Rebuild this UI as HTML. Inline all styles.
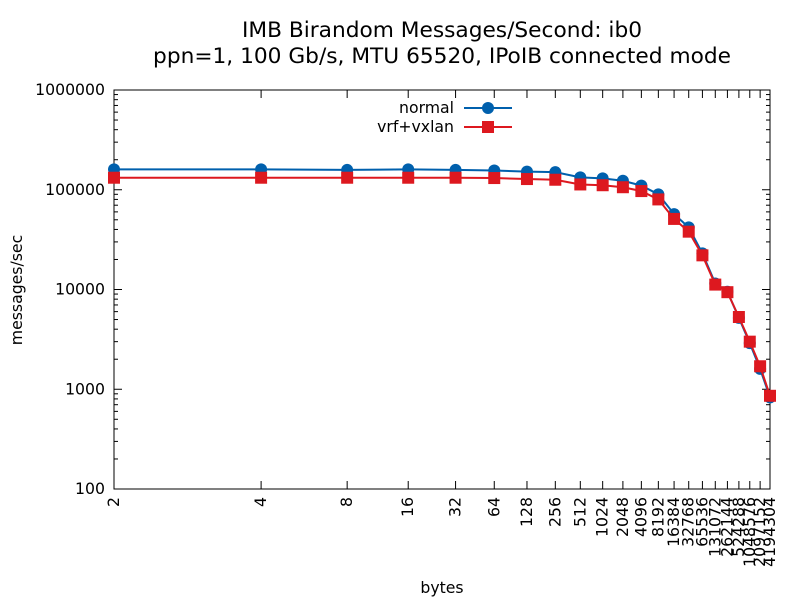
<!DOCTYPE html>
<html><head><meta charset="utf-8"><style>
body{margin:0;background:#fff}
svg text{font-family:"DejaVu Sans",sans-serif;fill:#000}
</style></head><body>
<svg id="c" width="800" height="600" xmlns="http://www.w3.org/2000/svg">
<text x="442" y="37" font-size="21.7" text-anchor="middle">IMB Birandom Messages/Second: ib0</text>
<text x="442" y="63" font-size="21.7" text-anchor="middle">ppn=1, 100 Gb/s, MTU 65520, IPoIB connected mode</text>
<text x="22" y="290" font-size="15.7" text-anchor="middle" transform="rotate(-90 22 290)">messages/sec</text>
<text x="442" y="593" font-size="15.7" text-anchor="middle">bytes</text>
<g id="ax"></g><g id="marks"></g>
<g>
<text x="454" y="113" font-size="15.7" text-anchor="end">normal</text>
<line x1="464" y1="108" x2="512" y2="108" stroke="#0060ad" stroke-width="2"/>
<circle cx="488" cy="108" r="6" fill="#0060ad"/>
<text x="454" y="132" font-size="15.7" text-anchor="end">vrf+vxlan</text>
<line x1="464" y1="127" x2="512" y2="127" stroke="#dd181f" stroke-width="2"/>
<rect x="482" y="121" width="12" height="12" fill="#dd181f"/>
</g>
</svg>
<script>
const bytes=[2,4,8,16,32,64,128,256,512,1024,2048,4096,8192,16384,32768,65536,131072,262144,524288,1048576,2097152,4194304];
const normal=[160000,160000,158000,160000,158000,156000,152000,150000,133000,130000,123000,110000,90000,57000,42000,23000,11500,9500,5200,2900,1600,830];
const vrf=[132000,132000,132000,132000,132000,131000,128000,126000,113000,111000,106000,97000,80000,51000,38000,22000,11200,9400,5300,3000,1700,860];
const yTicks=[100,1000,10000,100000,1000000];
const L=114,R=770,T=90,B=489;
function xs(b){return L+(R-L)*Math.log(Math.log2(b))/Math.log(22);}
function ys(v){return B-(B-T)*(Math.log10(v)-2)/4;}
const NS="http://www.w3.org/2000/svg";
function mk(t,a,p){const e=document.createElementNS(NS,t);for(const k in a)e.setAttribute(k,a[k]);p.appendChild(e);return e;}
const ax=document.getElementById('ax'),mg=document.getElementById('marks');
const fr=mk('rect',{x:L,y:T,width:R-L,height:B-T,fill:'none',stroke:'#000','stroke-width':1},ax);


yTicks.forEach(v=>{const y=ys(v);
mk('line',{x1:L,y1:y,x2:L+8,y2:y,stroke:'#000'},ax);mk('line',{x1:R,y1:y,x2:R-8,y2:y,stroke:'#000'},ax);
const t=mk('text',{x:L-9,y:y+5,'font-size':15.7,'text-anchor':'end'},ax);t.textContent=v;


if(v<1e6)for(let k=2;k<10;k++){const yy=ys(v*k);mk('line',{x1:L,y1:yy,x2:L+4,y2:yy,stroke:'#000'},ax);mk('line',{x1:R,y1:yy,x2:R-4,y2:yy,stroke:'#000'},ax);}
});
bytes.forEach(b=>{const x=xs(b);
mk('line',{x1:x,y1:B,x2:x,y2:B-8,stroke:'#000'},ax);mk('line',{x1:x,y1:T,x2:x,y2:T+8,stroke:'#000'},ax);
const t=mk('text',{x:x+5,y:B+8,'font-size':15.7,'text-anchor':'end',transform:`rotate(-90 ${x+5} ${B+8})`},ax);t.textContent=b;


});
function series(vals,col,shape,name){
const pl=mk('polyline',{points:vals.map((v,i)=>xs(bytes[i])+','+ys(v)).join(' '),fill:'none',stroke:col,'stroke-width':2},mg);


vals.forEach((v,i)=>{const x=xs(bytes[i]),y=ys(v);let e;
if(shape==='c')e=mk('circle',{cx:x,cy:y,r:6,fill:col},mg);else e=mk('rect',{x:x-6,y:y-6,width:12,height:12,fill:col},mg);

});
}
series(normal,'#0060ad','c','normal');
series(vrf,'#dd181f','s','vrf');
</script>
</body></html>
